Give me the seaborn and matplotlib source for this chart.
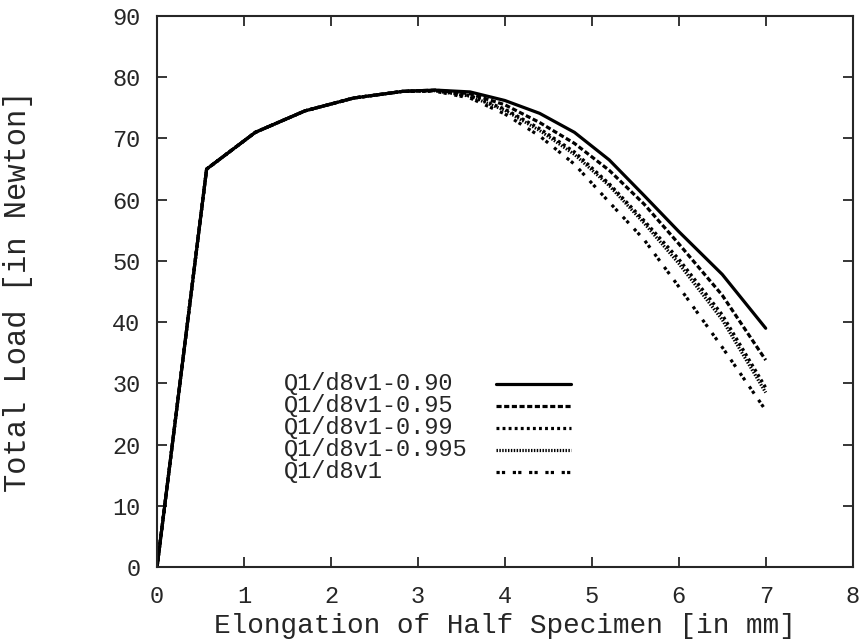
import matplotlib
matplotlib.use('Agg')
import matplotlib.pyplot as plt
import numpy as np
import pandas as pd
import seaborn as sns

# --- data ---
elongation = [0, 0.57, 1.13, 1.70, 2.26, 2.83, 3.2, 3.6, 4.0, 4.4, 4.8, 5.2, 5.6, 6.0, 6.5, 7.0]

load_090 = [0, 65.0, 71.0, 74.5, 76.6, 77.7, 77.9, 77.6, 76.2, 74.1, 71.0, 66.5, 60.7, 54.8, 47.8, 39.0]
load_095 = [0, 65.0, 71.0, 74.5, 76.6, 77.7, 77.9, 77.3, 75.5, 72.6, 69.2, 64.8, 59.3, 52.8, 44.4, 33.8]
load_099 = [0, 65.0, 71.0, 74.5, 76.6, 77.7, 77.8, 77.0, 74.8, 71.6, 67.8, 62.6, 56.6, 50.3, 41.2, 29.3]
load_0995 = [0, 65.0, 71.0, 74.5, 76.6, 77.7, 77.8, 76.9, 74.6, 71.3, 67.4, 62.3, 56.2, 49.6, 40.4, 28.5]
load_base = [0, 65.0, 71.0, 74.5, 76.6, 77.7, 77.7, 76.6, 74.0, 70.4, 65.8, 59.6, 53.5, 45.8, 35.9, 25.6]

series_names = ['Q1/d8v1-0.90', 'Q1/d8v1-0.95', 'Q1/d8v1-0.99', 'Q1/d8v1-0.995', 'Q1/d8v1']
series_loads = [load_090, load_095, load_099, load_0995, load_base]

x_ticks = [0, 1, 2, 3, 4, 5, 6, 7, 8]
y_ticks = [0, 10, 20, 30, 40, 50, 60, 70, 80, 90]

# gnuplot-like dash patterns
dash_styles = ['', (1.6, 0.8), (0.9, 1.0), (0.45, 0.45), (1.0, 0.7, 1.0, 2.4)]

df = pd.concat([
    pd.DataFrame({'elongation': elongation, 'load': vals, 'series': name})
    for name, vals in zip(series_names, series_loads)
])

sns.set_style('ticks')
plt.rcParams['font.family'] = ['Liberation Mono', 'DejaVu Sans Mono']

fig, ax = plt.subplots(figsize=(8.63, 6.4), dpi=100)
fig.subplots_adjust(left=0.182, right=0.988, bottom=0.114, top=0.975)

lw = 2.3
sns.lineplot(data=df, x='elongation', y='load', style='series', dashes=dash_styles,
             color='black', linewidth=lw, legend=False, ax=ax, sort=False)

# key: left-justified text with samples to the right (gnuplot style)
for i, (name, dash) in enumerate(zip(series_names, dash_styles)):
    yk = 0.333 - i * 0.040
    ax.text(0.182, yk, name, transform=ax.transAxes, ha='left', va='center', fontsize=17)
    line, = ax.plot([0.487, 0.595], [yk, yk], transform=ax.transAxes, color='black', lw=lw)
    if dash:
        line.set_dashes(dash)

ax.set_xlim(0, 8)
ax.set_ylim(0, 90)
ax.set_xticks(x_ticks)
ax.set_yticks(y_ticks)
ax.tick_params(direction='in', top=True, right=True, length=7, width=1.3, labelsize=17)
ax.tick_params(axis='x', pad=13)
ax.tick_params(axis='y', pad=12)
for sp in ax.spines.values():
    sp.set_linewidth(1.5)
    sp.set_visible(True)

ax.set_xlabel('Elongation of Half Specimen [in mm]', fontsize=20)
ax.set_ylabel('Total Load [in Newton]', fontsize=22)
ax.xaxis.set_label_coords(0.5, -0.083)
ax.yaxis.set_label_coords(-0.178, 0.5)

fig.savefig('out.png', dpi=100)
